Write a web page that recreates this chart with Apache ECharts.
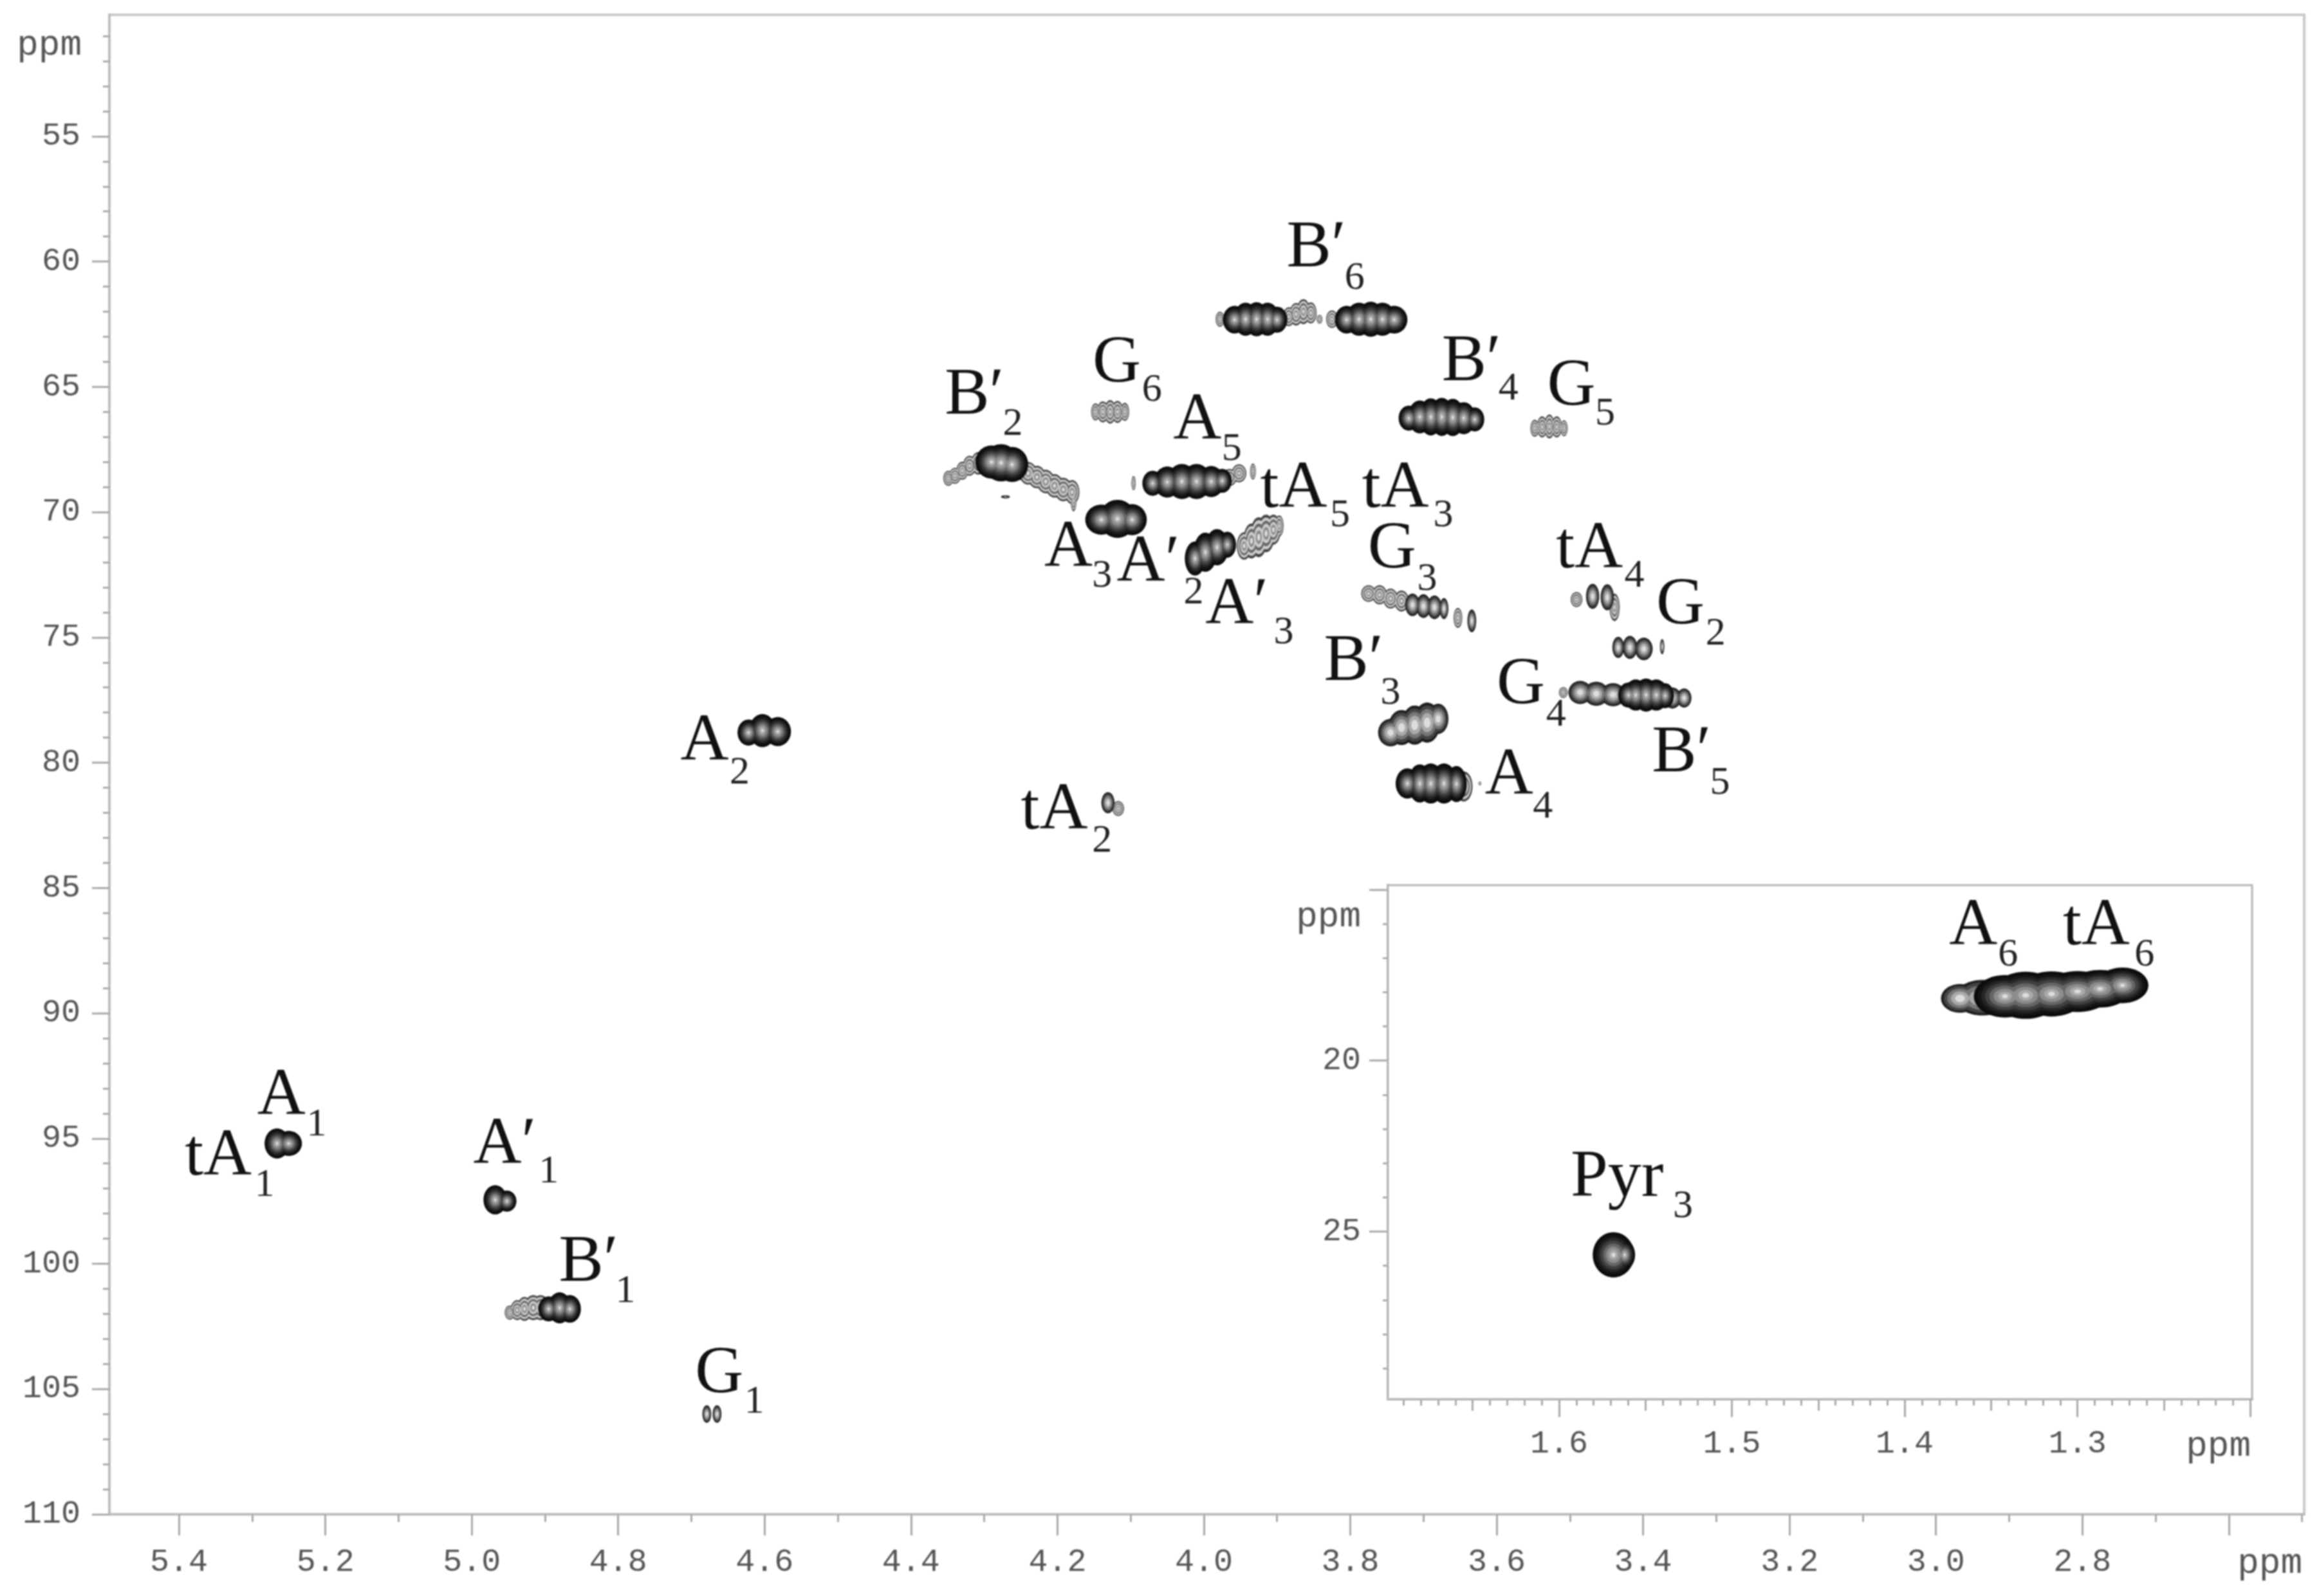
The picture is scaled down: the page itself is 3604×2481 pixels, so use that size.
<!DOCTYPE html>
<html>
<head>
<meta charset="utf-8">
<style>
  html, body { margin: 0; background: #fff; }
  #chart { width: 3604px; height: 2481px; filter: blur(1px); }
</style>
<script src="https://cdn.jsdelivr.net/npm/echarts@6/dist/echarts.min.js"></script>
</head>
<body>
<div id="chart"></div>
<script>
// every peak row is [1H ppm, 13C ppm, half width 1H, half width 13C]
const faintPeaks = [
  [4.948,101.95,.007,.28],[4.938,101.85,.009,.4],[4.928,101.8,.01,.48],[4.916,101.75,.012,.5],[4.906,101.75,.012,.5],
  [4.117,81.83,.008,.3],
  [3.978,62.3,.006,.3],[3.825,62.3,.008,.35],
  [3.884,62.2,.008,.38],[3.874,62.1,.009,.45],[3.864,62,.009,.5],[3.854,62.05,.008,.42],[3.842,62.3,.004,.18],
  [4.148,66,.006,.34],[4.138,66,.008,.42],[4.128,66,.008,.47],[4.118,66,.008,.44],[4.108,66,.006,.36],
  [3.548,66.65,.006,.34],[3.538,66.6,.007,.42],[3.528,66.58,.007,.48],[3.518,66.6,.007,.42],[3.508,66.65,.005,.32],
  [4.349,68.65,.007,.3],[4.34,68.55,.008,.32],[4.33,68.35,.008,.36],[4.32,68.15,.009,.4],[4.308,68.05,.01,.45],
  [4.25,68.3,.012,.42],[4.24,68.45,.012,.45],[4.228,68.6,.012,.45],[4.216,68.78,.012,.47],[4.204,68.95,.012,.47],[4.192,69.1,.012,.47],[4.18,69.2,.01,.48],[4.178,69.55,.004,.42],
  [3.965,68.62,.01,.34],[3.952,68.45,.01,.36],[3.933,68.38,.004,.32],[4.096,68.84,.003,.28],
  [3.945,71.35,.01,.55],[3.935,71.15,.011,.7],[3.925,71,.012,.8],[3.915,70.85,.012,.75],[3.905,70.7,.01,.6],[3.897,70.55,.006,.42],
  [3.775,73.25,.01,.33],[3.76,73.3,.01,.38],[3.745,73.45,.01,.4],[3.73,73.55,.01,.42],
  [3.653,74.22,.006,.4],
  [3.491,73.49,.008,.3],[3.439,73.8,.007,.55],
  [3.509,77.2,.006,.22],
  [3.645,80.95,.012,.6],[3.623,80.83,.002,.08]
];
const midPeaks = [
  [4.679,106,.006,.35],[4.665,106,.006,.35],
  [4.131,81.6,.009,.42],
  [3.715,73.7,.01,.45],[3.7,73.75,.01,.47],[3.685,73.8,.01,.47],[3.672,73.85,.006,.42],[3.634,74.34,.006,.45],
  [3.469,73.36,.009,.5],[3.449,73.4,.009,.52],
  [3.434,75.4,.008,.42],[3.418,75.4,.01,.46],[3.399,75.46,.012,.45],[3.374,75.37,.003,.3],
  [3.486,77.2,.016,.46],[3.464,77.25,.017,.48],[3.441,77.29,.017,.46],[3.36,77.42,.012,.42],[3.344,77.42,.01,.38],
  [3.745,78.8,.017,.55],[3.73,78.6,.018,.7],[3.712,78.5,.018,.78],[3.695,78.4,.018,.8],[3.68,78.25,.014,.6]
];
const darkPeaks = [
  [5.266,95.2,.017,.6],[5.25,95.2,.018,.5],
  [4.968,97.45,.016,.58],[4.952,97.5,.013,.42],
  [4.895,101.8,.014,.5],[4.88,101.76,.016,.62],[4.866,101.8,.015,.55],
  [4.622,78.8,.015,.52],[4.603,78.72,.018,.66],[4.582,78.76,.018,.58],
  [4.271,69.39,.006,.06],[4.29,68,.022,.66],[4.277,68.03,.024,.74],[4.262,68.1,.022,.7],
  [4.14,70.3,.022,.6],[4.118,70.27,.025,.76],[4.098,70.3,.02,.62],
  [4.07,68.85,.014,.5],[4.05,68.8,.018,.62],[4.03,68.78,.02,.7],[4.01,68.78,.02,.7],[3.99,68.78,.018,.62],[3.975,68.75,.013,.48],
  [4.012,71.85,.014,.68],[3.998,71.6,.016,.78],[3.982,71.4,.016,.72],[3.968,71.3,.012,.52],
  [3.958,62.32,.016,.55],[3.943,62.3,.016,.66],[3.928,62.3,.016,.68],[3.913,62.3,.016,.66],[3.9,62.32,.014,.52],
  [3.805,62.32,.016,.55],[3.788,62.3,.018,.66],[3.772,62.3,.018,.7],[3.756,62.3,.018,.66],[3.74,62.32,.018,.55],
  [3.72,66.25,.014,.5],[3.705,66.2,.016,.66],[3.69,66.2,.016,.74],[3.675,66.2,.016,.76],[3.66,66.22,.016,.74],[3.645,66.25,.016,.64],[3.63,66.3,.013,.48],
  [3.722,80.83,.016,.6],[3.705,80.83,.016,.76],[3.69,80.83,.018,.8],[3.672,80.83,.018,.8],[3.655,80.85,.014,.72],
  [3.42,77.3,.014,.5],[3.41,77.3,.016,.62],[3.396,77.3,.016,.66],[3.382,77.3,.016,.62],[3.37,77.33,.012,.5]
];
const insetMid = [[1.368,18.18,.011,.42],[1.355,18.16,.016,.52]];
const insetDark = [
  [1.562,25.68,.006,.42],[1.5685,25.68,.012,.66],
  [1.342,18.12,.018,.62],[1.33,18.09,.02,.69],
  [1.315,18.05,.02,.66],[1.3,17.98,.02,.6],[1.287,17.9,.018,.55],[1.274,17.8,.015,.52]
];

// [name, 1H ppm, 13C ppm, subscript, 1H ppm, 13C ppm]
const peakLabels = [
  ["B′",3.887,60.25,"6",3.794,60.66],["G",4.152,64.85,"6",4.071,65.14],["B′",4.354,66.14,"2",4.261,66.5],
  ["A",4.042,67.15,"5",3.962,67.5],["B′",3.675,64.79,"4",3.584,65.08],["G",3.531,65.79,"5",3.452,66.08],
  ["tA",3.923,69.86,"5",3.814,70.15],["tA",3.784,69.86,"3",3.673,70.15],["A",4.218,72.22,"3",4.139,72.57],
  ["A′",4.119,72.81,"2",4.014,73.22],["A′",3.998,74.52,"3",3.891,74.81],["G",3.776,72.28,"3",3.695,72.69],
  ["tA",3.519,72.28,"4",3.412,72.57],["G",3.382,74.52,"2",3.301,74.87],["G",3.6,77.7,"4",3.519,78.11],
  ["B′",3.836,76.76,"3",3.745,77.23],["A",3.616,81.3,"4",3.537,81.77],["B′",3.388,80.41,"5",3.295,80.83],
  ["A",4.715,79.94,"2",4.634,80.41],["tA",4.25,82.71,"2",4.139,83.13],["A",5.293,94.09,"1",5.212,94.45],
  ["tA",5.392,96.51,"1",5.283,96.86],["A′",4.998,96.04,"1",4.895,96.33],["B′",4.881,100.76,"1",4.79,101.11],
  ["G",4.695,105.18,"1",4.614,105.53]
];
const insetLabels = [
  ["A",1.3743,16.66,"6",1.3402,16.92],["tA",1.3085,16.66,"6",1.2613,16.92],["Pyr",1.5933,24.01,"3",1.5283,24.27]
];

const mainXTicks = [5.4,5.2,5,4.8,4.6,4.4,4.2,4,3.8,3.6,3.4,3.2,3,2.8,2.6];
const mainXLabels = [5.4,5.2,5,4.8,4.6,4.4,4.2,4,3.8,3.6,3.4,3.2,3,2.8];
const mainYTicks = [55,60,65,70,75,80,85,90,95,100,105,110];
const insetXTicks = [1.6,1.5,1.4,1.3,1.2];
const insetXLabels = [1.6,1.5,1.4,1.3];
const insetYTicks = [15,20,25];
const insetYLabels = [20,25];

function range(from, to, step, digits) {
  const out = [];
  for (let i = 0; from + i * step <= to + 1e-9; i++) out.push(+(from + i * step).toFixed(digits));
  return out;
}

const ramps = {
  dark: [[1,"#0a0a0a"],[.88,"#141414"],[.76,"#262626"],[.64,"#404040"],[.5,"#666"],[.36,"#8c8c8c"],[.22,"#aaa"],[.1,"#ddd"]],
  mid: [[1,"#1c1c1c"],[.86,"#444"],[.68,"#777"],[.48,"#aaa"],[.26,"#ddd"]],
  faint: [[1,"#444"],[.85,"#ccc"],[.68,"#666"],[.52,"#ccc"],[.34,"#888"],[.18,"#ddd"]]
};

// rings share a z2 per step so the lobes of one peak merge into scalloped contours
function peakItem(ramp) {
  return function (params, api) {
    const c = api.coord([api.value(0), api.value(1)]);
    const s = api.size([api.value(2), api.value(3)]);
    return {
      type: "group",
      children: ramp.map((r, i) => ({
        type: "ellipse",
        z2: i,
        shape: { cx: c[0], cy: c[1], rx: s[0] * r[0], ry: s[1] * r[0] },
        style: { fill: r[1] }
      }))
    };
  };
}

function labelItem(rows) {
  return function (params, api) {
    const row = rows[params.dataIndex];
    const a = api.coord([row[1], row[2]]);
    const b = api.coord([row[4], row[5]]);
    return {
      type: "group",
      children: [
        { type: "text", style: { text: row[0], x: a[0], y: a[1] + 22, fill: "#111", font: '104px "Liberation Serif"', align: "left", verticalAlign: "bottom" } },
        { type: "text", style: { text: row[3], x: b[0], y: b[1], fill: "#222", font: '62px "Liberation Serif"', align: "center", verticalAlign: "middle" } }
      ]
    };
  };
}

function peakSeries(rows, level, axis) {
  return {
    type: "custom",
    xAxisIndex: axis,
    yAxisIndex: axis,
    data: rows,
    silent: true,
    clip: false,
    z: level === "faint" ? 2 : level === "mid" ? 3 : 4,
    renderItem: peakItem(ramps[level])
  };
}

function labelSeries(rows, axis) {
  return {
    type: "custom",
    xAxisIndex: axis,
    yAxisIndex: axis,
    data: rows.map(r => [r[1], r[2]]),
    silent: true,
    clip: false,
    z: 6,
    renderItem: labelItem(rows)
  };
}

const monoLabel = { fontFamily: "Liberation Mono", fontSize: 50, color: "#555" };
const lineGray = "#bdbdbd";

function hAxis(grid, min, max, ticks, labels, len, margin) {
  return {
    type: "value", gridIndex: grid, min: min, max: max, inverse: true, position: "bottom",
    splitLine: { show: false },
    axisLine: { show: true, onZero: false, lineStyle: { color: lineGray, width: 4 } },
    axisTick: { show: true, customValues: ticks, length: len, lineStyle: { color: "#aaa", width: 3 } },
    axisLabel: labels ? Object.assign({ show: true, customValues: labels, margin: margin, formatter: v => v.toFixed(1) }, monoLabel) : { show: false }
  };
}

function vAxis(grid, min, max, ticks, labels, len, margin) {
  return {
    type: "value", gridIndex: grid, min: min, max: max, inverse: true, position: "left",
    splitLine: { show: false },
    axisLine: { show: true, onZero: false, lineStyle: { color: lineGray, width: 4 } },
    axisTick: { show: true, customValues: ticks, length: len, lineStyle: { color: "#aaa", width: 3 } },
    axisLabel: labels ? Object.assign({ show: true, customValues: labels, margin: margin }, monoLabel) : { show: false }
  };
}

function ppmText(x, y) {
  return { type: "text", x: x, y: y, style: { text: "ppm", fill: "#555", font: '56px "Liberation Mono"', align: "right", verticalAlign: "middle" } };
}

const myChart = echarts.init(document.querySelector("#chart"));
const option = {
  animation: false,
  backgroundColor: "#fff",
  grid: [
    { left: 170, right: 23, top: 23, bottom: 127, show: true, borderColor: "#c8c8c8", borderWidth: 4, backgroundColor: "#fff" },
    { left: 2157, right: 104, top: 1376, bottom: 306, show: true, borderColor: "#b4b4b4", borderWidth: 3, backgroundColor: "#fff", z: 1 }
  ],
  xAxis: [
    hAxis(0, 2.497, 5.495, mainXTicks, mainXLabels, 33, 50),
    hAxis(1, 1.199, 1.699, insetXTicks, insetXLabels, 28, 45),
    hAxis(0, 2.497, 5.495, range(2.5, 5.4, .1, 1), null, 12),
    hAxis(1, 1.199, 1.699, range(1.2, 1.69, .01, 2), null, 10),
    hAxis(1, 1.199, 1.699, range(1.25, 1.65, .1, 2), null, 18)
  ],
  yAxis: [
    vAxis(0, 50.15, 110, mainYTicks, mainYTicks, 27, 45),
    vAxis(1, 14.87, 29.9, insetYTicks, insetYLabels, 29, 42),
    vAxis(0, 50.15, 110, range(51, 110, 1, 0), null, 10),
    vAxis(1, 14.87, 29.9, range(15, 29, 1, 0), null, 8),
    vAxis(1, 14.87, 29.9, range(15, 29, 1, 0), null, 8)
  ],
  graphic: [ppmText(127, 70), ppmText(3578, 2430), ppmText(2115, 1425), ppmText(3498, 2248)],
  series: [
    peakSeries(faintPeaks, "faint", 0),
    peakSeries(midPeaks, "mid", 0),
    peakSeries(darkPeaks, "dark", 0),
    peakSeries(insetMid, "mid", 1),
    peakSeries(insetDark, "dark", 1),
    labelSeries(peakLabels, 0),
    labelSeries(insetLabels, 1)
  ]
};
myChart.setOption(option);
window.addEventListener("resize", () => {
  myChart.resize();
});
</script>
</body>
</html>
